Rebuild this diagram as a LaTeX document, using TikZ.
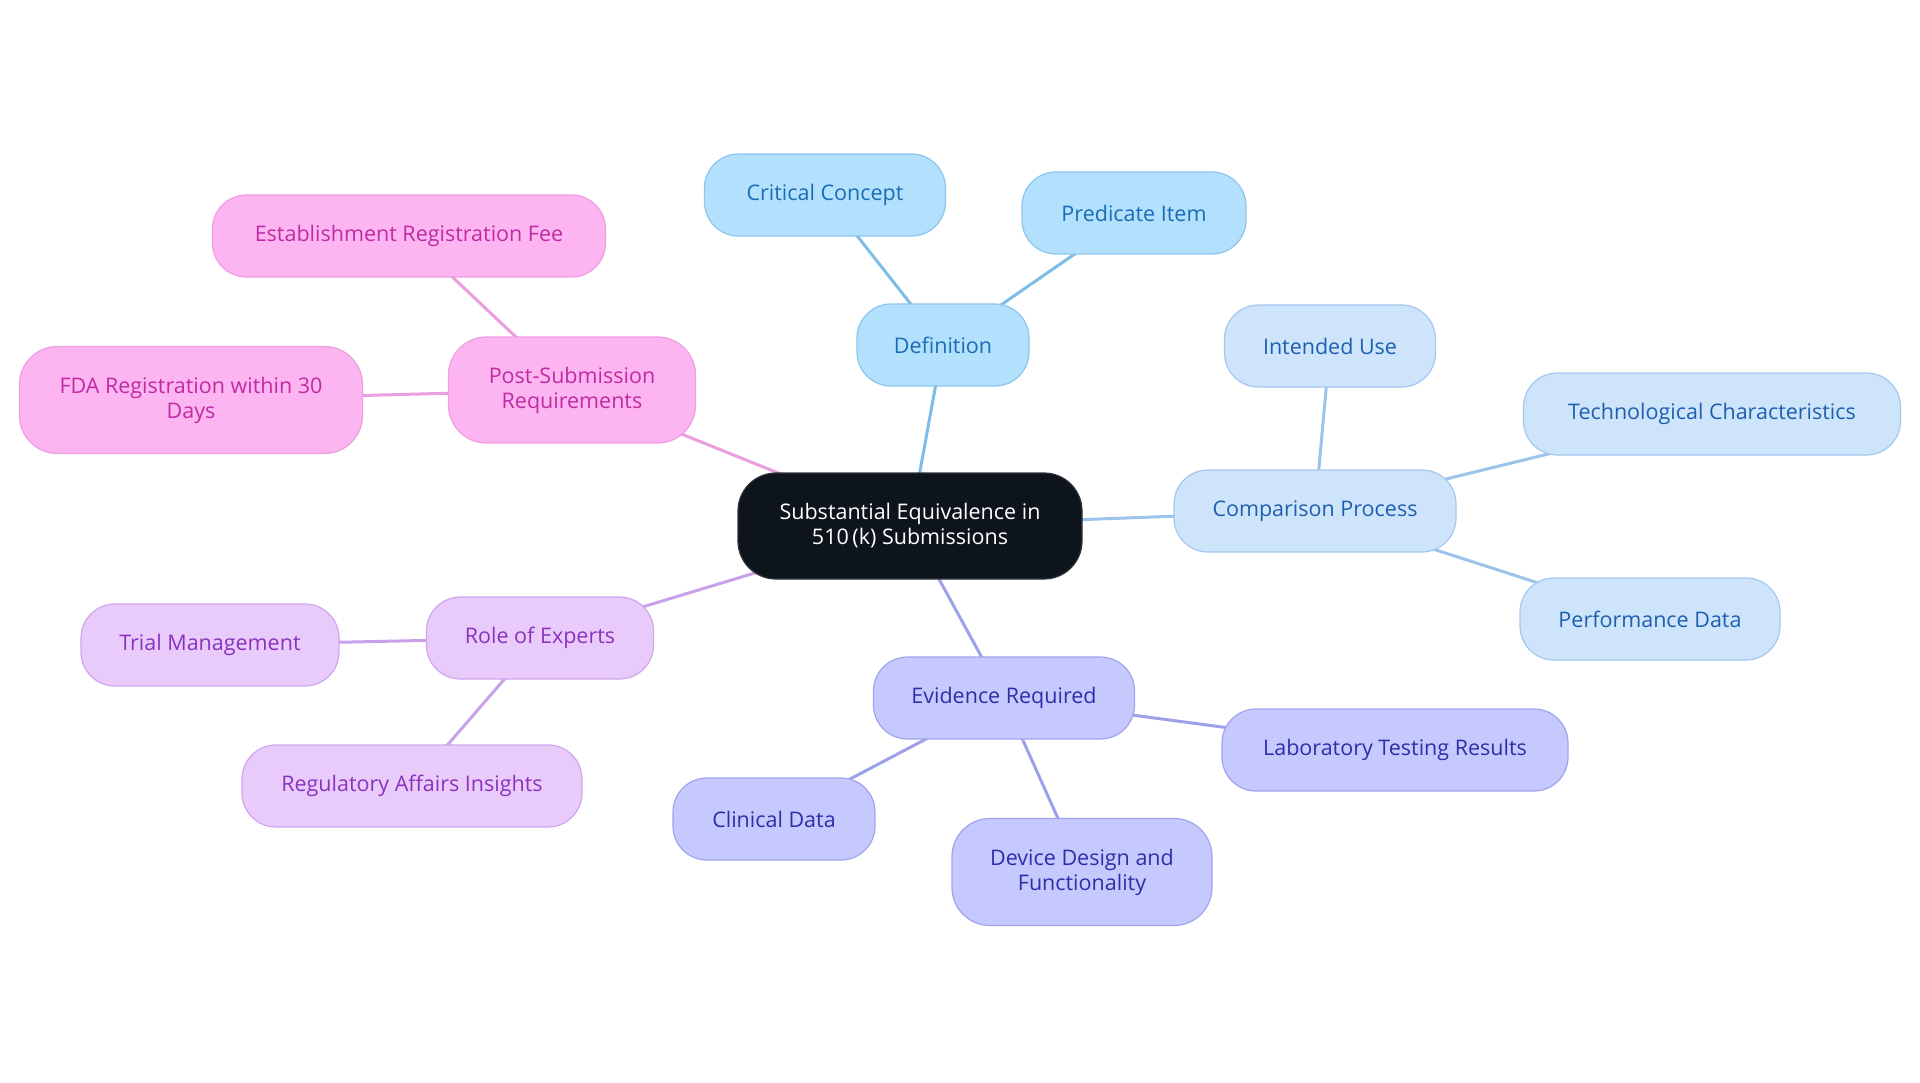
\documentclass[tikz,border=0pt]{standalone}
\usepackage{fontspec}
\setmainfont{Open Sans}
\usetikzlibrary{backgrounds}
\begin{document}
\begin{tikzpicture}[x=1pt,y=-1pt,
  base/.style={rectangle,rounded corners=34pt,draw,line width=1.2pt,align=center,inner sep=0pt,minimum height=82pt,font=\fontsize{21.5}{25}\selectfont},
  defn/.style={base,fill=defF,draw=defD,text=defT},
  comp/.style={base,fill=cmpF,draw=cmpD,text=cmpT},
  evid/.style={base,fill=evF,draw=evD,text=evT},
  post/.style={base,fill=psF,draw=psD,text=psT},
  role/.style={base,fill=rlF,draw=rlD,text=rlT},
  edge/.style={line width=3pt}
]
\definecolor{defF}{HTML}{B3E0FD}\definecolor{defD}{HTML}{8CC6EE}\definecolor{defT}{HTML}{1A6CB5}\definecolor{defE}{HTML}{7DBDE8}
\definecolor{cmpF}{HTML}{CDE4FB}\definecolor{cmpD}{HTML}{A3C8EF}\definecolor{cmpT}{HTML}{1E5FB0}\definecolor{cmpE}{HTML}{9CC3EC}
\definecolor{evF}{HTML}{C6C9FD}\definecolor{evD}{HTML}{A0A4EE}\definecolor{evT}{HTML}{2E2EA8}\definecolor{evE}{HTML}{9DA1EA}
\definecolor{psF}{HTML}{FDB5F2}\definecolor{psD}{HTML}{EE9EE2}\definecolor{psT}{HTML}{C02AA2}\definecolor{psE}{HTML}{EA9EDE}
\definecolor{rlF}{HTML}{E9CBFB}\definecolor{rlD}{HTML}{CFA6EE}\definecolor{rlT}{HTML}{8A32BE}\definecolor{rlE}{HTML}{C9A1EA}
\definecolor{ctrF}{HTML}{0D141C}
\useasboundingbox (0,0) rectangle (1920,1083);

% nodes
\node[base,fill=ctrF,draw=ctrF!70!gray,text=white,minimum width=344pt,minimum height=106pt,rounded corners=38pt] (c) at (910,526) {Substantial Equivalence in\\510\,(k) Submissions};

\node[defn,minimum width=172pt] (def) at (943,345) {Definition};
\node[defn,minimum width=241pt] (cc) at (825,195) {Critical Concept};
\node[defn,minimum width=224pt] (pi) at (1134,213) {Predicate Item};

\node[comp,minimum width=282pt] (cp) at (1315,511) {Comparison Process};
\node[comp,minimum width=211pt] (iu) at (1330,346) {Intended Use};
\node[comp,minimum width=377pt] (tc) at (1712,414) {Technological Characteristics};
\node[comp,minimum width=260pt] (pd) at (1650,619) {Performance Data};

\node[evid,minimum width=261pt] (er) at (1004,698) {Evidence Required};
\node[evid,minimum width=346pt] (lt) at (1395,750) {Laboratory Testing Results};
\node[evid,minimum width=202pt] (cd) at (774,819) {Clinical Data};
\node[evid,minimum width=260pt,minimum height=107pt,rounded corners=38pt] (dd) at (1082,872) {Device Design and\\Functionality};

\node[post,minimum width=247pt,minimum height=106pt,rounded corners=38pt] (ps) at (572,390) {Post-Submission\\Requirements};
\node[post,minimum width=393pt] (ef) at (409,236) {Establishment Registration Fee};
\node[post,minimum width=343pt,minimum height=107pt,rounded corners=38pt] (fr) at (191,400) {FDA Registration within 30\\Days};

\node[role,minimum width=227pt] (re) at (540,638) {Role of Experts};
\node[role,minimum width=258pt] (tm) at (210,645) {Trial Management};
\node[role,minimum width=340pt] (ra) at (412,786) {Regulatory Affairs Insights};

% edges
\begin{scope}[on background layer]
\fill[white] (0,0) rectangle (1920,1083);
\draw[edge,defE] (c.center) -- (def.center);
\draw[edge,defE] (def.center) -- (cc.center);
\draw[edge,defE] (def.center) -- (pi.center);
\draw[edge,cmpE] (c.center) -- (cp.center);
\draw[edge,cmpE] (cp.center) -- (iu.center);
\draw[edge,cmpE] (cp.center) -- (tc.center);
\draw[edge,cmpE] (cp.center) -- (pd.center);
\draw[edge,evE] (c.center) -- (er.center);
\draw[edge,evE] (er.center) -- (lt.center);
\draw[edge,evE] (er.center) -- (cd.center);
\draw[edge,evE] (er.center) -- (dd.center);
\draw[edge,psE] (c.center) -- (ps.center);
\draw[edge,psE] (ps.center) -- (ef.center);
\draw[edge,psE] (ps.center) -- (fr.center);
\draw[edge,rlE] (c.center) -- (re.center);
\draw[edge,rlE] (re.center) -- (tm.center);
\draw[edge,rlE] (re.center) -- (ra.center);
\end{scope}
\end{tikzpicture}
\end{document}
